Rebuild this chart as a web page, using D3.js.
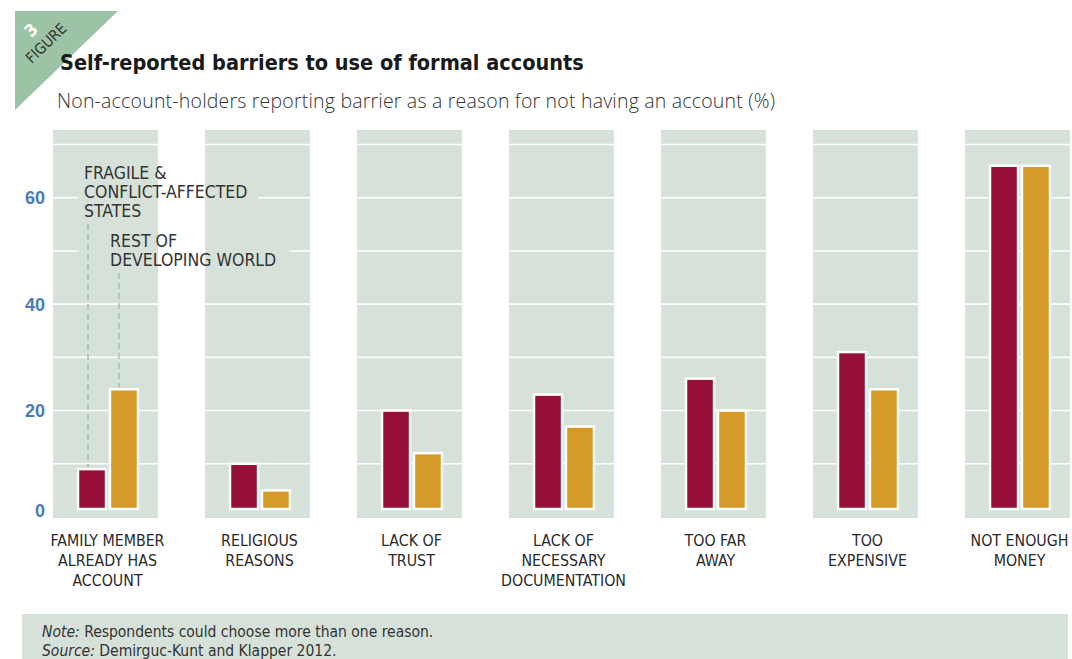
<!DOCTYPE html>
<html>
<head>
<meta charset="utf-8">
<script src="https://cdn.jsdelivr.net/npm/d3@7"></script>
<style>
  body { margin: 0; background: #fff; }
  svg { display: block; }
</style>
</head>
<body>
<script>
// categories (each label split into lines)
let categories = ['family', 'religious', 'trust', 'docs', 'far', 'expensive', 'money'];
let categoryLabels = [
	['FAMILY MEMBER', 'ALREADY HAS', 'ACCOUNT'],
	['RELIGIOUS', 'REASONS'],
	['LACK OF', 'TRUST'],
	['LACK OF', 'NECESSARY', 'DOCUMENTATION'],
	['TOO FAR', 'AWAY'],
	['TOO', 'EXPENSIVE'],
	['NOT ENOUGH', 'MONEY']
];
let seriesNames = ['fragile', 'rest'];
// % of non-account-holders
let fragileValues = [9, 10, 20, 23, 26, 31, 66];
let restValues = [24, 5, 12, 17, 20, 24, 66];
let yTicks = [0, 20, 40, 60];
let gridTicks = [10, 20, 30, 40, 50, 60, 70];

let W = 1072, H = 659;
let panelFill = '#d6e1d9';
let colors = { fragile: '#950f39', rest: '#d69a29' };
let narrow = "'Liberation Sans Narrow', 'DejaVu Sans Condensed', sans-serif";

let svg = d3.select('body').append('svg')
	.attr('width', W)
	.attr('height', H);

//scales
let x = d3.scaleBand()
	.domain(categories)
	.range([53, 1070])
	.paddingInner(47 / 152)
	.paddingOuter(0);

let xSub = d3.scaleBand()
	.domain(seriesNames)
	.range([24, 86])
	.paddingInner(0.06);

let y = d3.scaleLinear()
	.domain([0, 70])
	.range([517, 144.5]);

let baseline = y(0) - 8;

//figure tag
svg.append('path')
	.attr('d', 'M15,11 L118,11 L15,110 Z')
	.attr('fill', '#9dc3a7');
svg.append('text')
	.attr('transform', 'translate(31,30) rotate(-45)')
	.attr('text-anchor', 'middle')
	.attr('dy', '0.36em')
	.attr('font-family', narrow)
	.attr('font-weight', 'bold')
	.attr('font-size', '17px')
	.attr('fill', '#fff')
	.text('3');
svg.append('text')
	.attr('transform', 'translate(46,43) rotate(-44)')
	.attr('text-anchor', 'middle')
	.attr('dy', '0.36em')
	.attr('font-family', narrow)
	.attr('font-size', '15px')
	.attr('fill', '#333')
	.text('FIGURE');

//title and subtitle
svg.append('text')
	.attr('x', 60)
	.attr('y', 70)
	.attr('font-family', narrow)
	.attr('font-weight', 'bold')
	.attr('font-size', '21.5px')
	.attr('fill', '#1a1a1a')
	.text('Self-reported barriers to use of formal accounts');

svg.append('text')
	.attr('x', 57)
	.attr('y', 108)
	.attr('font-family', "'Open Sans', 'Liberation Sans', sans-serif")
	.attr('font-weight', 300)
	.attr('font-size', '19.5px')
	.attr('letter-spacing', '0.2px')
	.attr('fill', '#333')
	.text('Non-account-holders reporting barrier as a reason for not having an account (%)');

//panels
let panels = svg.append('g');
panels.selectAll('rect')
	.data(categories)
	.enter()
	.append('rect')
	.attr('x', d => x(d))
	.attr('y', 130)
	.attr('width', x.bandwidth())
	.attr('height', 388)
	.attr('fill', panelFill);

//gridlines inside panels
categories.forEach(function(c) {
	panels.append('g')
		.selectAll('line')
		.data(gridTicks)
		.enter()
		.append('line')
		.attr('x1', x(c))
		.attr('x2', x(c) + x.bandwidth())
		.attr('y1', d => y(d))
		.attr('y2', d => y(d))
		.attr('stroke', '#fff')
		.attr('stroke-width', 1.6);
});

//clip so that the legend backdrop only covers panels
let clip = svg.append('clipPath').attr('id', 'panelClip');
clip.selectAll('rect')
	.data(categories)
	.enter()
	.append('rect')
	.attr('x', d => x(d))
	.attr('y', 130)
	.attr('width', x.bandwidth())
	.attr('height', 388);

let backdrop = svg.append('g').attr('clip-path', 'url(#panelClip)');
backdrop.append('rect')
	.attr('x', 79).attr('y', 158).attr('width', 179).attr('height', 66)
	.attr('fill', panelFill);
backdrop.append('rect')
	.attr('x', 79).attr('y', 226).attr('width', 210).attr('height', 46)
	.attr('fill', panelFill);

//y axis labels
svg.append('g')
	.selectAll('text')
	.data(yTicks)
	.enter()
	.append('text')
	.attr('x', 45)
	.attr('y', d => d == 0 ? baseline + 2 : y(d))
	.attr('dy', '0.36em')
	.attr('text-anchor', 'end')
	.attr('font-family', "'Liberation Sans', sans-serif")
	.attr('font-weight', 'bold')
	.attr('font-size', '18px')
	.attr('fill', '#4a7bb9')
	.text(d => d);

//bars
let barData = [];
categories.forEach(function(c, i) {
	barData.push({ cat: c, series: 'fragile', value: fragileValues[i] });
	barData.push({ cat: c, series: 'rest', value: restValues[i] });
});

svg.append('g')
	.selectAll('rect')
	.data(barData)
	.enter()
	.append('rect')
	.attr('x', d => x(d.cat) + xSub(d.series) + 1)
	.attr('y', d => y(d.value))
	.attr('width', xSub.bandwidth() - 2)
	.attr('height', d => baseline - y(d.value))
	.attr('fill', d => colors[d.series])
	.attr('stroke', '#fff')
	.attr('stroke-width', 2.5);

//legend leader lines
let firstFragile = x(categories[0]) + xSub('fragile') + xSub.bandwidth() / 2 - 4;
let firstRest = x(categories[0]) + xSub('rest') + xSub.bandwidth() / 2 - 5;
svg.append('line')
	.attr('x1', firstFragile).attr('x2', firstFragile)
	.attr('y1', 224).attr('y2', y(fragileValues[0]) - 2)
	.attr('stroke', '#9cc6aa').attr('stroke-width', 1.5)
	.attr('stroke-dasharray', '6,4');
svg.append('line')
	.attr('x1', firstRest).attr('x2', firstRest)
	.attr('y1', 273).attr('y2', y(restValues[0]) - 2)
	.attr('stroke', '#9cc6aa').attr('stroke-width', 1.5)
	.attr('stroke-dasharray', '6,4');

//legend text
let legendText = [
	{ x: 84, y: 173, lines: ['FRAGILE &', 'CONFLICT-AFFECTED', 'STATES'] },
	{ x: 110, y: 241, lines: ['REST OF', 'DEVELOPING WORLD'] }
];
legendText.forEach(function(l) {
	svg.append('text')
		.attr('font-family', narrow)
		.attr('font-size', '17.5px')
		.attr('fill', '#333')
		.selectAll('tspan')
		.data(l.lines)
		.enter()
		.append('tspan')
		.attr('x', l.x)
		.attr('y', (d, i) => l.y + i * 19)
		.attr('dy', '0.36em')
		.text(d => d);
});

//category labels
let catGroups = svg.append('g')
	.selectAll('text')
	.data(categories)
	.enter()
	.append('text')
	.attr('text-anchor', 'middle')
	.attr('font-family', narrow)
	.attr('font-size', '15.8px')
	.attr('fill', '#2a2a2a');

catGroups.selectAll('tspan')
	.data((d, i) => categoryLabels[i].map(t => ({ cat: d, t: t })))
	.enter()
	.append('tspan')
	.attr('x', d => x(d.cat) + x.bandwidth() / 2 + 2)
	.attr('y', (d, i) => 540 + i * 20)
	.attr('dy', '0.36em')
	.text(d => d.t);

//note box
svg.append('rect')
	.attr('x', 22).attr('y', 614)
	.attr('width', 1046).attr('height', 45)
	.attr('fill', panelFill);

let notes = [
	{ lead: 'Note:', rest: ' Respondents could choose more than one reason.', y: 631 },
	{ lead: 'Source:', rest: ' Demirguc-Kunt and Klapper 2012.', y: 650 }
];
notes.forEach(function(n) {
	let t = svg.append('text')
		.attr('x', 42)
		.attr('y', n.y)
		.attr('dy', '0.36em')
		.attr('font-family', narrow)
		.attr('font-size', '15.5px')
		.attr('fill', '#333');
	t.append('tspan').attr('font-style', 'italic').text(n.lead);
	t.append('tspan').text(n.rest);
});
</script>
</body>
</html>
